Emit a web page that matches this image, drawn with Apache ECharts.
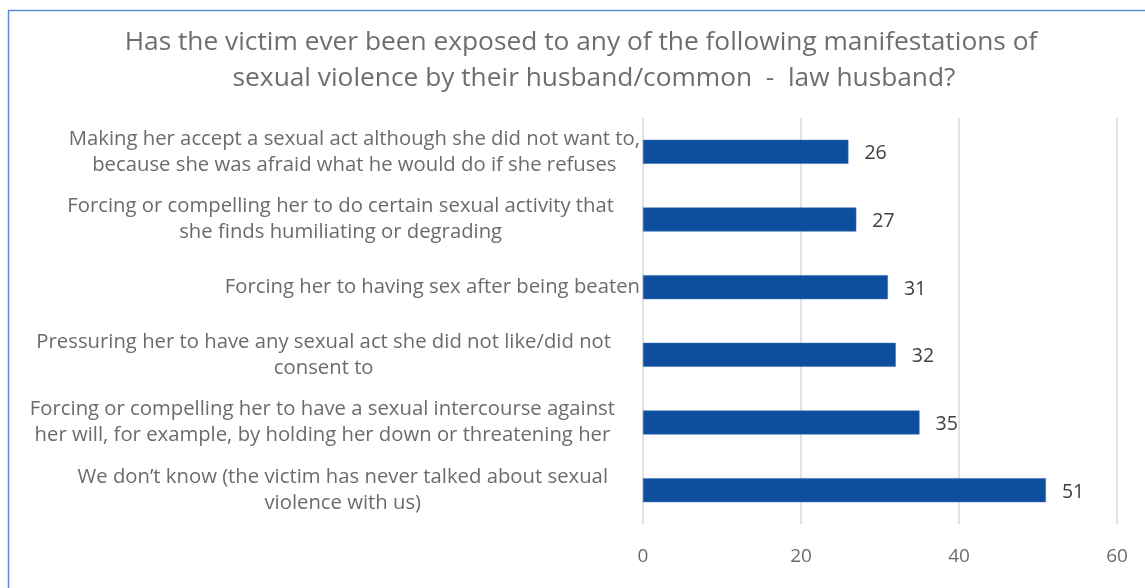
<!DOCTYPE html>
<html>
<head>
<meta charset="utf-8">
<script src="https://cdn.jsdelivr.net/npm/echarts@6/dist/echarts.min.js"></script>
<style>
  html, body { margin: 0; padding: 0; background: #ffffff; }
  #chart { width: 1145px; height: 588px; }
</style>
</head>
<body>
<div id="chart"></div>
<script>
// Chart content
const titleLines = [
  'Has the victim ever been exposed to any of the following manifestations of',
  'sexual violence by their husband/common  -  law husband?'
];
const categories = [
  'Making her accept a sexual act although she did not want to,\nbecause she was afraid what he would do if she refuses',
  'Forcing or compelling her to do certain sexual activity that\nshe finds humiliating or degrading',
  'Forcing her to having sex after being beaten',
  'Pressuring her to have any sexual act she did not like/did not\nconsent to',
  'Forcing or compelling her to have a sexual intercourse against\nher will, for example, by holding her down or threatening her',
  'We don\u2019t know (the victim has never talked about sexual\nviolence with us)'
];
const values = [26, 27, 31, 32, 35, 51];
// right-hand gap between each category label and the axis
const labelGaps = [0, 26, 0, 29, 25, 32];

const FONT = '"Open Sans", "Noto Sans", sans-serif';

const chart = echarts.init(document.getElementById('chart'), null, { renderer: 'canvas' });

const categoryData = categories.map((c, i) => ({
  value: c,
  textStyle: { padding: [0, labelGaps[i], 0, 0] }
}));

chart.setOption({
  animation: false,
  backgroundColor: '#ffffff',
  graphic: [{
    type: 'rect',
    shape: { x: 8.5, y: 10.5, width: 1160, height: 600 },
    style: { fill: 'none', stroke: '#5b8dd3', lineWidth: 1.5 },
    silent: true
  }],
  title: [
    {
      text: titleLines[0],
      left: 581, top: 30, textAlign: 'center', padding: 0,
      textStyle: { fontFamily: FONT, fontSize: 26.3, fontWeight: 'normal', color: '#6e6e6e' }
    },
    {
      text: titleLines[1],
      left: 594, top: 66, textAlign: 'center', padding: 0,
      textStyle: { fontFamily: FONT, fontSize: 26.3, fontWeight: 'normal', color: '#6e6e6e' }
    }
  ],
  grid: { left: 643, right: 28, top: 118, bottom: 64, containLabel: false },
  xAxis: {
    type: 'value',
    min: 0, max: 60, interval: 20,
    axisLine: { show: false },
    axisTick: { show: false },
    splitLine: { show: true, lineStyle: { color: '#d9d9d9', width: 1.5 } },
    axisLabel: { margin: 23, fontFamily: FONT, fontSize: 19, color: '#6b6b6b' }
  },
  yAxis: {
    type: 'category',
    inverse: true,
    data: categoryData,
    axisLine: { show: false },
    axisTick: { show: false },
    splitLine: { show: false },
    axisLabel: {
      margin: 3,
      fontFamily: FONT, fontSize: 20.3, color: '#6b6b6b', lineHeight: 26,
      align: 'right',
      formatter: v => '{c|' + v + '}',
      rich: { c: { align: 'center', fontFamily: FONT, fontSize: 20.3, color: '#6b6b6b', lineHeight: 26 } }
    }
  },
  series: [{
    type: 'bar',
    data: values,
    barWidth: 24,
    itemStyle: { color: '#0d4f9e', borderColor: '#3b6fb5', borderWidth: 0.5 },
    label: {
      show: true, position: 'right', distance: 16, offset: [0, 2],
      fontFamily: FONT, fontSize: 19.5, color: '#404040'
    }
  }]
});
</script>
</body>
</html>
